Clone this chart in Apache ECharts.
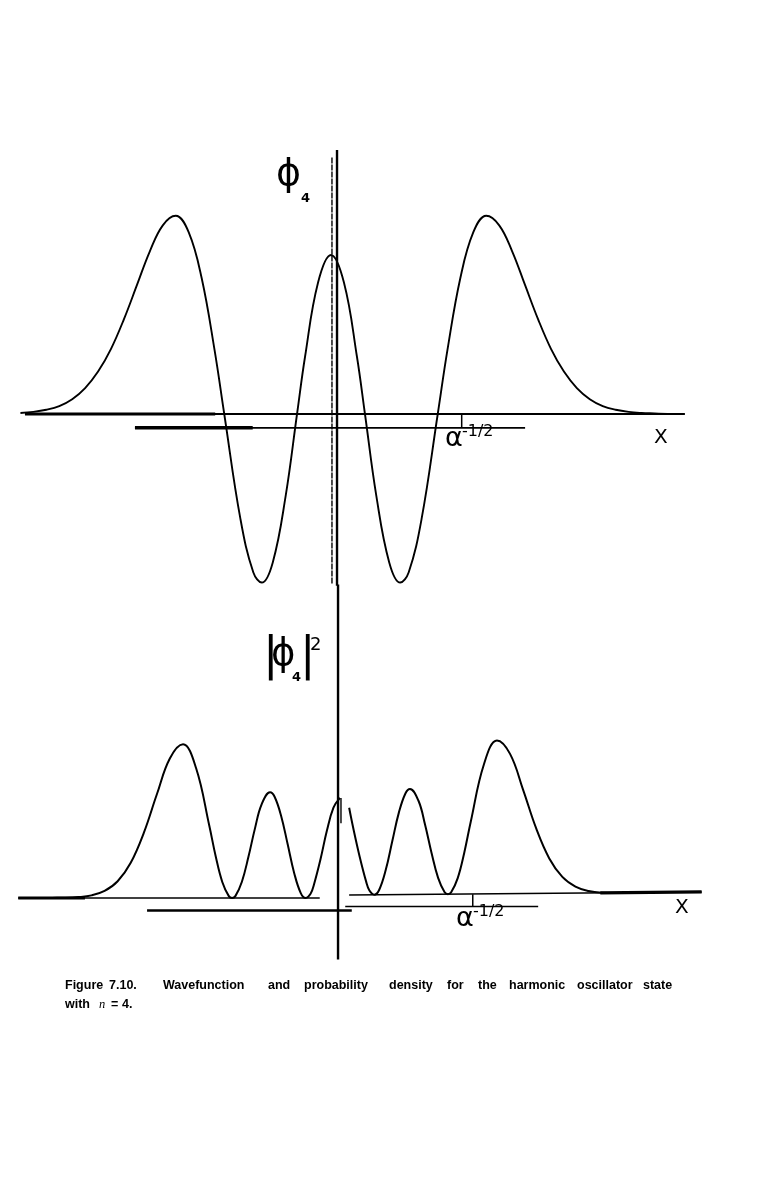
<!DOCTYPE html>
<html>
<head>
<meta charset="utf-8">
<script src="https://cdn.jsdelivr.net/npm/echarts@6/dist/echarts.min.js"></script>
<style>
html,body{margin:0;padding:0;background:#fff;}
#chart{width:761px;height:1197px;}
</style>
</head>
<body>
<div id="chart"></div>
<script>
// ---- Top panel: wavefunction phi_4 (x in units of alpha^-1/2) ----
const topXi  = [-4.8,-4.6,-4.4,-4.2,-4.0,-3.8,-3.6,-3.4,-3.2,-3.0,-2.8,-2.6,-2.4,-2.2,-2.0,-1.8,-1.65,-1.4,-1.2,-1.07,-0.9,-0.7,-0.525,-0.4,-0.2,0,0.2,0.4,0.525,0.7,0.9,1.07,1.2,1.4,1.65,1.8,2.0,2.2,2.4,2.6,2.8,3.0,3.2,3.4,3.6,3.8,4.0,4.2,4.4,4.6,4.8,5.0,5.2];
const topPsi = [0.02,0.04,0.08,0.15,0.28,0.49,0.80,1.23,1.79,2.43,3.07,3.56,3.74,3.43,2.57,1.21,0,-1.98,-2.99,-3.18,-2.80,-1.54,0,1.09,2.48,3.00,2.48,1.09,0,-1.54,-2.80,-3.18,-2.99,-1.98,0,1.21,2.57,3.43,3.74,3.56,3.07,2.43,1.79,1.23,0.80,0.49,0.28,0.15,0.08,0.04,0.02,0.01,0.00];

// ---- Bottom panel: probability density |phi_4|^2, drawn in two pieces ----
const botLeftXi = [-4.6,-4.4,-4.2,-4.0,-3.8,-3.6,-3.4,-3.2,-3.0,-2.8,-2.6,-2.4,-2.2,-2.0,-1.9,-1.8,-1.7,-1.65,-1.6,-1.5,-1.4,-1.3,-1.2,-1.07,-1.0,-0.9,-0.8,-0.7,-0.6,-0.525,-0.45,-0.4,-0.3,-0.2,-0.1,0];
const botLeftP  = [0.00,0.01,0.02,0.08,0.24,0.64,1.52,3.20,5.92,9.43,12.70,13.97,11.79,6.61,3.77,1.46,0.17,0,0.17,1.48,3.74,6.33,8.49,9.61,9.20,7.46,4.88,2.26,0.45,0,0.38,1.19,3.48,6.13,8.21,9.10];
const botRightXi = [0.14,0.2,0.3,0.4,0.45,0.525,0.6,0.7,0.8,0.9,1.0,1.07,1.2,1.3,1.4,1.5,1.6,1.65,1.7,1.8,1.9,2.0,2.2,2.4,2.6,2.8,3.0,3.2,3.4,3.6,3.8,4.0,4.2];
const botRightP  = [8.20,6.43,3.78,1.49,0.68,0.30,0.75,2.56,5.18,7.76,9.50,9.91,8.84,6.68,4.09,1.83,0.52,0.35,0.52,1.81,4.12,6.96,12.14,14.32,13.10,9.83,6.32,3.60,1.92,1.04,0.64,0.48,0.45];

// ---- Axis / reference strokes of the drawing (data coordinates) ----
const topBaseline      = [[-4.73,0],[5.47,0]];
const topBaselineHeavy = [[-4.73,0],[-1.79,0]];
const topScaleBar      = [[-3.03,-0.26],[3.0,-0.26]];
const topScaleBarHeavy = [[-3.03,-0.26],[-1.21,-0.26]];
const topScaleTick     = [[2.02,0],[2.02,-0.26]];
const topVertical      = [[0.093,-3.24],[0.093,4.98]];
const topVertical2     = [[0.015,-3.2],[0.015,4.86]];

const botBaseLeft      = [[-4.92,0],[-0.31,0]];
const botBaseLeftHeavy = [[-4.92,0],[-3.9,0]];
const botBaseRight     = [[0.14,0.27],[5.53,0.55]];
const botBaseRightHeavy= [[3.98,0.47],[5.53,0.55]];
const botScaleLeft     = [[-2.95,-1.14],[0.18,-1.14]];
const botScaleRight    = [[0.08,-0.77],[3.03,-0.77]];
const botScaleTick     = [[2.03,0.35],[2.03,-0.77]];
const botCenterStroke  = [[0.015,9.1],[0.015,6.8]];
const botVertical      = [[-0.03,-5.6],[-0.03,28.5]];

const zip = (xs, ys) => xs.map((x, i) => [x, ys[i]]);

const chart = echarts.init(document.getElementById('chart'), null, {renderer: 'canvas'});

function seg(data, grid, width, extra) {
  return Object.assign({
    type: 'line', data: data, xAxisIndex: grid, yAxisIndex: grid,
    showSymbol: false, symbol: 'none', silent: true, animation: false,
    lineStyle: {color: '#000', width: width}
  }, extra || {});
}

const txt = (x, y, text, font, extra) => Object.assign({
  type: 'text', x: x, y: y,
  style: {text: text, font: font, fill: '#000', textAlign: 'left', textVerticalAlign: 'top', align: 'left', verticalAlign: 'top'}
}, extra || {});

const capFont = 'bold 12.5px "Liberation Sans", Arial, sans-serif';
const captionWords1 = ['Figure','7.10.','Wavefunction','and','probability','density','for','the','harmonic','oscillator','state'];
const captionX1 = [65,109,163,268,304,389,447,478,509,577,643];
const captionWords2 = ['with','n','=','4.'];
const captionX2 = [65,99,111,122];

const graphics = [];
captionWords1.forEach((w, i) => graphics.push(txt(captionX1[i], 979, w, capFont)));
captionWords2.forEach((w, i) => graphics.push(txt(captionX2[i], 998, w, i === 1 ? 'italic 12.5px "Liberation Serif", serif' : capFont)));

const labFont = '"DejaVu Sans", sans-serif';
graphics.push(
  txt(276, 156, '\u03D5', '38px ' + labFont),
  txt(301, 192, '4', 'bold 13px ' + labFont),
  txt(263, 634, '|', '46px ' + labFont),
  txt(271, 637, '\u03D5', '37px ' + labFont),
  txt(292, 671, '4', 'bold 13px ' + labFont),
  txt(300, 634, '|', '46px ' + labFont),
  txt(310, 636, '2', '18px ' + labFont),
  txt(445, 425, '\u03B1', '27px ' + labFont),
  txt(462, 424, '-1/2', '16px ' + labFont),
  txt(654, 428, 'X', '20px ' + labFont),
  txt(456, 905, '\u03B1', '27px ' + labFont),
  txt(473, 904, '-1/2', '16px ' + labFont),
  txt(675, 898, 'X', '20px ' + labFont)
);

const option = {
  backgroundColor: '#fff',
  animation: false,
  grid: [
    {left: 20.44, width: 666.41, top: 149, height: 434.6},
    {left: 13, width: 693.24, top: 585.6, height: 374}
  ],
  xAxis: [
    {type: 'value', gridIndex: 0, min: -4.8, max: 5.5, show: false},
    {type: 'value', gridIndex: 1, min: -5, max: 5.6, show: false}
  ],
  yAxis: [
    {type: 'value', gridIndex: 0, min: -3.2, max: 5.0, show: false},
    {type: 'value', gridIndex: 1, min: -5.6, max: 28.4, show: false}
  ],
  series: [
    seg(topBaseline, 0, 1.8),
    seg(topBaselineHeavy, 0, 3.2),
    seg(topScaleBar, 0, 1.8),
    seg(topScaleBarHeavy, 0, 3.6),
    seg(topScaleTick, 0, 1.5),
    seg(topVertical, 0, 2.4, {clip: false}),
    seg(topVertical2, 0, 1.4, {lineStyle: {color: '#000', width: 1.4, type: [6, 1]}}),
    seg(zip(topXi, topPsi), 0, 1.9, {smooth: 0.4}),
    seg(botBaseLeft, 1, 1.6),
    seg(botBaseLeftHeavy, 1, 2.8),
    seg(botBaseRight, 1, 1.6),
    seg(botBaseRightHeavy, 1, 3.2),
    seg(botScaleLeft, 1, 2.6),
    seg(botScaleRight, 1, 1.6),
    seg(botScaleTick, 1, 1.5),
    seg(botCenterStroke, 1, 1.4),
    seg(botVertical, 1, 2.4, {clip: false}),
    seg(zip(botLeftXi, botLeftP), 1, 2.0, {smooth: 0.4}),
    seg(zip(botRightXi, botRightP), 1, 2.0, {smooth: 0.4})
  ],
  graphic: graphics
};
chart.setOption(option);
</script>
</body>
</html>
